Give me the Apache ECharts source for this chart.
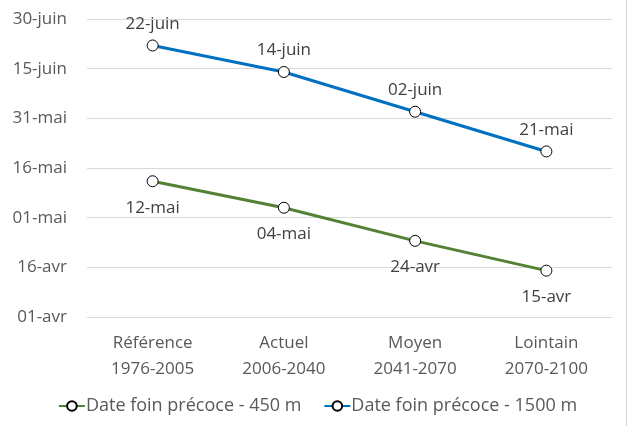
<!DOCTYPE html>
<html>
<head>
<meta charset="utf-8">
<script src="https://cdn.jsdelivr.net/npm/echarts@6/dist/echarts.min.js"></script>
<style>
  html, body { margin: 0; padding: 0; background: #fff; }
  #chart { width: 635px; height: 426px; }
</style>
</head>
<body>
<div id="chart"></div>
<script>
// catégories (périodes)
const periodes = ["Référence\n1976-2005", "Actuel\n2006-2040", "Moyen\n2041-2070", "Lointain\n2070-2100"];
// jours comptés depuis le 01-avr (0 = 01-avr)
const date450 = [41, 33, 23, 14];
const date1500 = [82, 74, 62, 50];
// graduations de l'axe
const ticks = ["01-avr", "16-avr", "01-mai", "16-mai", "31-mai", "15-juin", "30-juin"];

const mois = [["avr", 30], ["mai", 31], ["juin", 30]];

// convertir un décalage en jours vers "jj-mois"
function toDate(offset) {
  let d = offset;
  for (const [nom, len] of mois) {
    if (d < len) return String(d + 1).padStart(2, "0") + "-" + nom;
    d -= len;
  }
  return "";
}

const font = "'Open Sans', 'Noto Sans', sans-serif";
const fs = 17;
const chart = echarts.init(document.getElementById("chart"));

chart.setOption({
  animation: false,
  textStyle: { fontFamily: font },
  grid: { left: 87, right: 23, top: 19, bottom: 109 },
  xAxis: {
    type: "category",
    data: periodes,
    axisLine: { show: false },
    axisTick: { show: false },
    axisLabel: { color: "#595959", fontSize: fs, lineHeight: 26, margin: 13, fontFamily: font },
  },
  yAxis: {
    type: "value",
    min: 0,
    max: 90,
    interval: 15,
    axisLabel: {
      color: "#595959",
      fontSize: fs,
      margin: 20,
      fontFamily: font,
      formatter: (v) => ticks[v / 15],
    },
    splitLine: { lineStyle: { color: "#d9d9d9", width: 1 } },
  },
  legend: {
    bottom: 6,
    left: "center",
    itemGap: 22,
    itemWidth: 26,
    itemHeight: 12,
    textStyle: { color: "#595959", fontSize: 18, fontFamily: font, padding: [0, 0, 0, -4] },
    data: ["Date foin précoce - 450 m", "Date foin précoce - 1500 m"],
  },
  series: [
    {
      name: "Date foin précoce - 450 m",
      type: "line",
      data: date450,
      color: "#548235",
      lineStyle: { width: 3, color: "#548235" },
      symbol: "circle",
      symbolSize: 11,
      itemStyle: { color: "#fff", borderColor: "#000", borderWidth: 1 },
      label: {
        show: true,
        position: "bottom",
        distance: 12,
        color: "#404040",
        fontSize: fs,
        fontFamily: font,
        formatter: (p) => toDate(p.value),
      },
    },
    {
      name: "Date foin précoce - 1500 m",
      type: "line",
      data: date1500,
      color: "#0070c0",
      lineStyle: { width: 3, color: "#0070c0" },
      symbol: "circle",
      symbolSize: 11,
      itemStyle: { color: "#fff", borderColor: "#000", borderWidth: 1 },
      label: {
        show: true,
        position: "top",
        distance: 7,
        color: "#404040",
        fontSize: fs,
        fontFamily: font,
        formatter: (p) => toDate(p.value),
      },
    },
  ],
  graphic: [
    {
      type: "line",
      shape: { x1: 626.5, y1: 0, x2: 626.5, y2: 426 },
      style: { stroke: "#d9d9d9", lineWidth: 1 },
    },
  ],
});
</script>
</body>
</html>
